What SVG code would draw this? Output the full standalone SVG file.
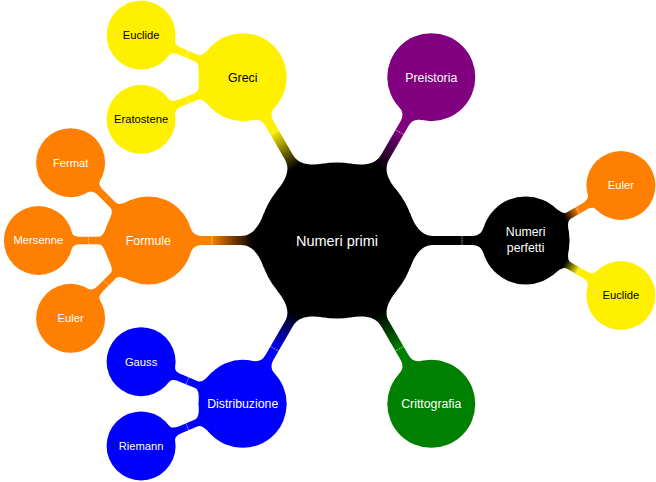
<svg xmlns="http://www.w3.org/2000/svg" xmlns:xlink="http://www.w3.org/1999/xlink" width="656" height="482" viewBox="0 0 656 482">
<style>
text{font-family:"Liberation Sans",Arial,sans-serif;text-anchor:middle;fill:#fff}
.t0{font-size:14.5px}
.t1{font-size:12.3px}
.t2{font-size:11.2px}
.dk{fill:#000}
.tick{stroke:#fff;stroke-width:0.8;stroke-opacity:0.8;stroke-dasharray:1.2 0.8}
.k{fill:#000}.y{fill:#FFF000}.o{fill:#FF8000}.p{fill:#800080}.g{fill:#008000}.b{fill:#0000FF}
</style>
<defs>
<path id="barA" d="M73.2,-27 C77.35,-15.74 84,-4.6 96,-4.6 L135,-4.6 C141,-4.6 144.8,-7.27 146.56,-13 L160,-20 L160,20 L146.56,13 C144.8,7.27 141,4.6 135,4.6 L96,4.6 C84,4.6 77.35,15.74 73.2,27 L60,30 L60,-30 Z"/>
<path id="barB" d="M40.58,-17 C42.9,-11.47 45,-3.7 50,-3.7 L68,-3.7 C72,-3.7 75.74,-5.08 76.44,-8 L85,-14 L85,14 L76.44,8 C75.74,5.08 72,3.7 68,3.7 L50,3.7 C45,3.7 42.9,11.47 40.58,17 L30,20 L30,-20 Z"/>
<linearGradient id="gAy" gradientUnits="userSpaceOnUse" x1="84" y1="0" x2="126" y2="0"><stop offset="0" stop-color="#000"/><stop offset="1" stop-color="#FFF000"/></linearGradient>
<linearGradient id="gAp" gradientUnits="userSpaceOnUse" x1="84" y1="0" x2="126" y2="0"><stop offset="0" stop-color="#000"/><stop offset="1" stop-color="#800080"/></linearGradient>
<linearGradient id="gAo" gradientUnits="userSpaceOnUse" x1="84" y1="0" x2="126" y2="0"><stop offset="0" stop-color="#000"/><stop offset="1" stop-color="#FF8000"/></linearGradient>
<linearGradient id="gAb" gradientUnits="userSpaceOnUse" x1="84" y1="0" x2="126" y2="0"><stop offset="0" stop-color="#000"/><stop offset="1" stop-color="#0000FF"/></linearGradient>
<linearGradient id="gAg" gradientUnits="userSpaceOnUse" x1="84" y1="0" x2="126" y2="0"><stop offset="0" stop-color="#000"/><stop offset="1" stop-color="#008000"/></linearGradient>
<linearGradient id="gBo" gradientUnits="userSpaceOnUse" x1="45" y1="0" x2="61" y2="0"><stop offset="0" stop-color="#000"/><stop offset="1" stop-color="#FF8000"/></linearGradient>
<linearGradient id="gBy" gradientUnits="userSpaceOnUse" x1="45" y1="0" x2="61" y2="0"><stop offset="0" stop-color="#000"/><stop offset="1" stop-color="#FFF000"/></linearGradient>
</defs>
<rect width="656" height="482" fill="#fff"/>
<g id="connectors">
<g transform="translate(337 240.5) rotate(-120)"><use xlink:href="#barA" fill="url(#gAy)"/><line class="tick" x1="125" y1="-4.6" x2="125" y2="4.6"/></g>
<g transform="translate(337 240.5) rotate(-60)"><use xlink:href="#barA" fill="url(#gAp)"/><line class="tick" x1="125" y1="-4.6" x2="125" y2="4.6"/></g>
<g transform="translate(337 240.5)"><use xlink:href="#barA" fill="#000"/><line class="tick" x1="125" y1="-4.6" x2="125" y2="4.6"/></g>
<g transform="translate(337 240.5) rotate(60)"><use xlink:href="#barA" fill="url(#gAg)"/><line class="tick" x1="125" y1="-4.6" x2="125" y2="4.6"/></g>
<g transform="translate(337 240.5) rotate(120)"><use xlink:href="#barA" fill="url(#gAb)"/><line class="tick" x1="125" y1="-4.6" x2="125" y2="4.6"/></g>
<g transform="translate(337 240.5) rotate(180)"><use xlink:href="#barA" fill="url(#gAo)"/><line class="tick" x1="125" y1="-4.6" x2="125" y2="4.6"/></g>
<g transform="translate(242.7 77.2) rotate(-157.5)"><use xlink:href="#barB" fill="#FFF000"/><line class="tick" x1="60" y1="-3.7" x2="60" y2="3.7"/></g>
<g transform="translate(242.7 77.2) rotate(157.5)"><use xlink:href="#barB" fill="#FFF000"/><line class="tick" x1="60" y1="-3.7" x2="60" y2="3.7"/></g>
<g transform="translate(148.4 240.5) rotate(-135)"><use xlink:href="#barB" fill="#FF8000"/><line class="tick" x1="60" y1="-3.7" x2="60" y2="3.7"/></g>
<g transform="translate(148.4 240.5) rotate(180)"><use xlink:href="#barB" fill="#FF8000"/><line class="tick" x1="60" y1="-3.7" x2="60" y2="3.7"/></g>
<g transform="translate(148.4 240.5) rotate(135)"><use xlink:href="#barB" fill="#FF8000"/><line class="tick" x1="60" y1="-3.7" x2="60" y2="3.7"/></g>
<g transform="translate(242.7 403.8) rotate(-157.5)"><use xlink:href="#barB" fill="#0000FF"/><line class="tick" x1="60" y1="-3.7" x2="60" y2="3.7"/></g>
<g transform="translate(242.7 403.8) rotate(157.5)"><use xlink:href="#barB" fill="#0000FF"/><line class="tick" x1="60" y1="-3.7" x2="60" y2="3.7"/></g>
<g transform="translate(525.6 240.5) rotate(-30)"><use xlink:href="#barB" fill="url(#gBo)"/><line class="tick" x1="60" y1="-3.7" x2="60" y2="3.7"/></g>
<g transform="translate(525.6 240.5) rotate(30)"><use xlink:href="#barB" fill="url(#gBy)"/><line class="tick" x1="60" y1="-3.7" x2="60" y2="3.7"/></g>
</g>
<g id="n-numeri-primi"><circle class="k" cx="337" cy="240.5" r="78"/><text class="t0" x="337" y="245.5">Numeri primi</text></g>
<g id="n-greci"><circle class="y" cx="242.7" cy="77.2" r="44"/><text class="t1 dk" x="242.7" y="81.5">Greci</text></g>
<g id="n-preistoria"><circle class="p" cx="431.3" cy="77.2" r="44"/><text class="t1" x="431.3" y="81.5">Preistoria</text></g>
<g id="n-numeri-perfetti"><circle class="k" cx="525.6" cy="240.5" r="44"/><text class="t1" x="525.6" y="236">Numeri</text><text class="t1" x="525.6" y="251.5">perfetti</text></g>
<g id="n-crittografia"><circle class="g" cx="431.3" cy="403.8" r="44"/><text class="t1" x="431.3" y="408.1">Crittografia</text></g>
<g id="n-distribuzione"><circle class="b" cx="242.7" cy="403.8" r="44"/><text class="t1" x="242.7" y="408.1">Distribuzione</text></g>
<g id="n-formule"><circle class="o" cx="148.4" cy="240.5" r="44"/><text class="t1" x="148.4" y="244.8">Formule</text></g>
<g id="n-euclide-greci"><circle class="y" cx="141.1" cy="35.1" r="34.5"/><text class="t2 dk" x="141.1" y="39">Euclide</text></g>
<g id="n-eratostene"><circle class="y" cx="141.1" cy="119.3" r="34.5"/><text class="t2 dk" x="141.1" y="123.2">Eratostene</text></g>
<g id="n-fermat"><circle class="o" cx="70.6" cy="162.7" r="34.5"/><text class="t2" x="70.6" y="166.6">Fermat</text></g>
<g id="n-mersenne"><circle class="o" cx="38.4" cy="240.5" r="34.5"/><text class="t2" x="38.4" y="244.4">Mersenne</text></g>
<g id="n-euler-formule"><circle class="o" cx="70.6" cy="318.3" r="34.5"/><text class="t2" x="70.6" y="322.2">Euler</text></g>
<g id="n-gauss"><circle class="b" cx="141.1" cy="361.7" r="34.5"/><text class="t2" x="141.1" y="365.6">Gauss</text></g>
<g id="n-riemann"><circle class="b" cx="141.1" cy="445.9" r="34.5"/><text class="t2" x="141.1" y="449.8">Riemann</text></g>
<g id="n-euler-perfetti"><circle class="o" cx="620.9" cy="185.5" r="34.5"/><text class="t2" x="620.9" y="189.4">Euler</text></g>
<g id="n-euclide-perfetti"><circle class="y" cx="620.9" cy="295.5" r="34.5"/><text class="t2 dk" x="620.9" y="299.4">Euclide</text></g>
</svg>
